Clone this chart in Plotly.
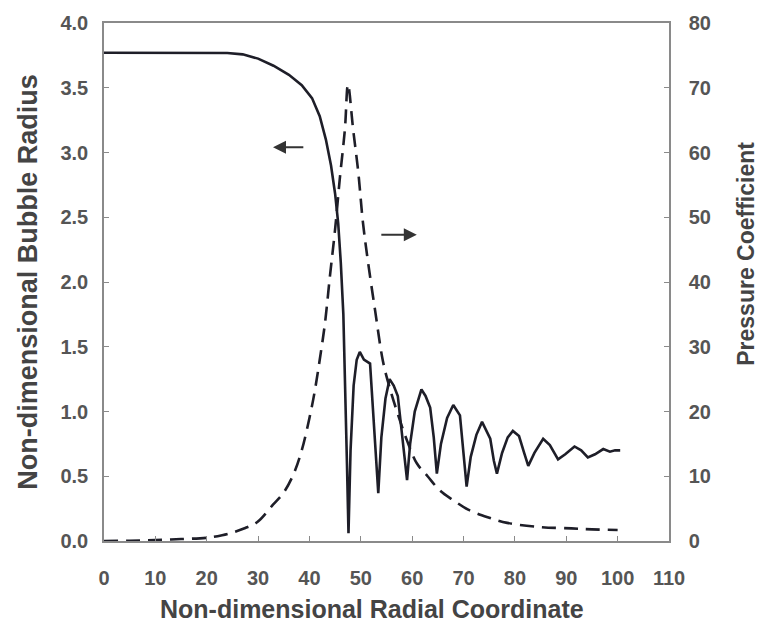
import plotly.graph_objects as go

# Bubble radius (left axis)
radius_x = [0, 10, 20, 24, 27, 30, 33, 36, 38.5, 40.5, 42, 43.2, 44.2, 45, 45.6, 46.1, 46.6, 47, 47.3, 47.6,
            48.0, 48.6, 49.2, 49.8, 50.6, 51.8, 52.4, 53.0, 53.4, 54.0, 54.8, 55.6, 56.4, 57.2, 57.8, 58.5, 59.0,
            59.6, 60.5, 61.8, 62.6, 63.5, 64.2, 64.8, 65.6, 66.8, 68.0, 69.3, 70.0, 70.6,
            71.4, 72.5, 73.6, 75.2, 75.9, 76.5, 77.5, 78.6, 79.6, 80.8, 81.8, 82.6, 83.8, 85.5, 86.8, 88.4,
            89.8, 91.6, 92.9, 94.2, 95.6, 97.2, 98.5, 99.5, 100.5]
radius_y = [3.77, 3.77, 3.77, 3.768, 3.758, 3.725, 3.67, 3.6, 3.52, 3.42, 3.28, 3.1, 2.9, 2.68, 2.45, 2.15, 1.75, 1.2, 0.6, 0.06,
            0.7, 1.2, 1.4, 1.46, 1.40, 1.37, 1.0, 0.55, 0.37, 0.8, 1.1, 1.25, 1.2, 1.12, 0.9, 0.6, 0.47,
            0.75, 1.0, 1.17, 1.12, 1.03, 0.8, 0.52, 0.75, 0.95, 1.05, 0.97, 0.7, 0.42,
            0.65, 0.82, 0.92, 0.79, 0.62, 0.52, 0.68, 0.8, 0.85, 0.81, 0.68, 0.58, 0.68, 0.79, 0.74, 0.63,
            0.67, 0.73, 0.70, 0.645, 0.67, 0.71, 0.69, 0.70, 0.70]

# Pressure coefficient (right axis)
press_x = [0, 5, 10, 15, 20, 23, 25, 27.5, 29.8, 32.9, 35.0, 37.0, 38.5, 40, 41, 42, 43, 44, 45, 45.9, 46.9, 47.5,
           48.5, 49.5, 50.4, 51.4, 52.8, 54.3, 55.5, 57, 59, 60.9, 63, 65.4, 68, 71, 75, 78.5, 85, 91, 95, 100]
press_y = [0, 0.05, 0.15, 0.3, 0.5, 0.9, 1.3, 2.0, 2.9, 5.6, 7.5, 10.5, 14, 19, 23, 28, 33.5, 41, 48.2, 55.9, 63.6, 70.5,
           63.6, 57, 49.3, 43.1, 35.5, 27.8, 24, 20.1, 15.5, 12, 10, 7.8, 6.3, 4.8, 3.6, 2.8, 2.15, 1.95, 1.8, 1.7]

x_ticks = list(range(0, 111, 10))
y_ticks = [0.0, 0.5, 1.0, 1.5, 2.0, 2.5, 3.0, 3.5, 4.0]
y2_ticks = list(range(0, 81, 10))

FONT = "Liberation Sans, Arial, Helvetica, sans-serif"
LINE = "#1e1e28"
AXIS = "#8a8a8a"
TICKC = "#555555"
TITLEC = "#444444"

fig = go.Figure()
fig.add_trace(go.Scatter(x=radius_x, y=radius_y, mode="lines",
                         line=dict(color=LINE, width=2.6), yaxis="y", showlegend=False))
fig.add_trace(go.Scatter(x=press_x, y=press_y, mode="lines", line_shape="spline",
                         line=dict(color=LINE, width=2.6, dash="14px,8px"), yaxis="y2", showlegend=False))

tickfont = dict(family=FONT, size=20, color=TICKC, weight="bold")

fig.update_layout(
    width=760, height=631,
    margin=dict(l=104, r=91, t=20, b=90),
    paper_bgcolor="white", plot_bgcolor="white",
    xaxis=dict(range=[0, 110], tickvals=x_ticks, ticks="inside", ticklen=5, tickcolor=AXIS,
               showline=True, linecolor=AXIS, linewidth=1.5, mirror=True, showgrid=False, zeroline=False,
               tickfont=tickfont, ticklabelstandoff=18),
    yaxis=dict(range=[0, 4], tickvals=y_ticks, tickformat=".1f", ticks="inside", ticklen=5, tickcolor=AXIS,
               showline=True, linecolor=AXIS, linewidth=1.5, mirror=True, showgrid=False, zeroline=False,
               tickfont=tickfont, ticklabelstandoff=10),
    yaxis2=dict(range=[0, 80], tickvals=y2_ticks, overlaying="y", side="right", ticks="inside", ticklen=5,
                tickcolor=AXIS, showline=True, linecolor=AXIS, linewidth=1.5, showgrid=False, zeroline=False,
                tickfont=tickfont, ticklabelstandoff=14),
    showlegend=False,
)

annos = [
    dict(text="Non-dimensional Radial Coordinate", xref="paper", yref="paper", x=0.475, y=-0.1,
         xanchor="center", yanchor="top", showarrow=False,
         font=dict(family=FONT, size=25, color=TITLEC, weight="bold")),
    dict(text="Non-dimensional Bubble Radius", xref="paper", yref="paper", x=-0.135, y=0.5,
         xanchor="center", yanchor="middle", textangle=-90, showarrow=False,
         font=dict(family=FONT, size=27, color=TITLEC, weight="bold")),
    dict(text="Pressure Coefficient", xref="paper", yref="paper", x=1.135, y=0.555,
         xanchor="center", yanchor="middle", textangle=-90, showarrow=False,
         font=dict(family=FONT, size=23, color=TITLEC, weight="bold")),
    # direction arrows
    dict(x=32.9, y=3.04, ax=39.1, ay=3.04, xref="x", yref="y", axref="x", ayref="y",
         showarrow=True, arrowhead=2, arrowsize=1.3, arrowwidth=2, arrowcolor="#333333", text=""),
    dict(x=60.9, y=2.365, ax=53.7, ay=2.365, xref="x", yref="y", axref="x", ayref="y",
         showarrow=True, arrowhead=2, arrowsize=1.3, arrowwidth=2, arrowcolor="#333333", text=""),
]
fig.update_layout(annotations=annos)

fig.write_html("out.html")
